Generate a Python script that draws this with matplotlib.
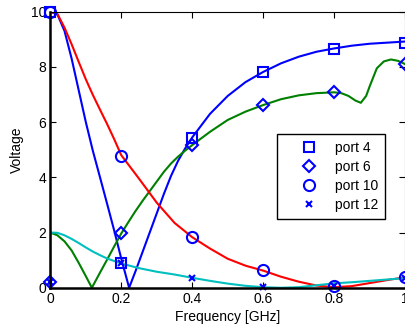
import matplotlib.pyplot as plt

plt.rcParams['font.family'] = ['Liberation Sans', 'DejaVu Sans']

# sampled frequencies for the markers
f_mark = [0.0, 0.2, 0.4, 0.6, 0.8, 1.0]
port4 = [10.0, 0.88, 5.42, 7.82, 8.66, 8.88]
port6 = [0.2, 1.97, 5.17, 6.62, 7.08, 8.1]
port10 = [10.0, 4.77, 1.83, 0.63, 0.05, 0.38]
port12 = [0.2, 0.88, 0.36, 0.04, 0.08, 0.36]

# fitted curves (blue, green, red, cyan)
f_blue = [0.0, 0.02, 0.04, 0.06, 0.08, 0.10, 0.12, 0.14, 0.16, 0.18, 0.20, 0.222,
          0.24, 0.26, 0.28, 0.30, 0.32, 0.34, 0.36, 0.38, 0.40, 0.45, 0.50, 0.55,
          0.60, 0.65, 0.70, 0.75, 0.80, 0.85, 0.90, 0.95, 1.0]
v_blue = [10.0, 9.9, 9.3, 8.3, 7.15, 6.0, 4.95, 4.0, 3.04, 2.07, 1.05, 0.0,
          0.6, 1.3, 2.0, 2.7, 3.4, 4.05, 4.6, 5.05, 5.45, 6.3, 6.95, 7.45,
          7.82, 8.13, 8.37, 8.55, 8.67, 8.77, 8.84, 8.88, 8.92]

f_green = [0.0, 0.02, 0.04, 0.06, 0.08, 0.10, 0.117, 0.14, 0.16, 0.18, 0.20, 0.22,
           0.24, 0.26, 0.28, 0.30, 0.32, 0.34, 0.36, 0.38, 0.40, 0.45, 0.50, 0.55,
           0.60, 0.65, 0.70, 0.75, 0.80, 0.82, 0.84, 0.86, 0.875, 0.89, 0.90, 0.92,
           0.94, 0.96, 0.98, 1.0]
v_green = [2.0, 1.9, 1.68, 1.35, 0.9, 0.42, 0.0, 0.55, 1.02, 1.5, 1.97, 2.38,
           2.78, 3.15, 3.5, 3.85, 4.2, 4.5, 4.75, 4.97, 5.17, 5.65, 6.08, 6.38,
           6.62, 6.83, 6.97, 7.05, 7.08, 7.05, 6.95, 6.78, 6.7, 6.95, 7.3, 7.95,
           8.2, 8.27, 8.22, 8.1]

f_red = [0.0, 0.02, 0.04, 0.06, 0.08, 0.10, 0.12, 0.14, 0.16, 0.18, 0.20, 0.25,
         0.30, 0.35, 0.40, 0.45, 0.50, 0.55, 0.60, 0.65, 0.70, 0.75, 0.80, 0.85,
         0.90, 0.95, 1.0]
v_red = [10.0, 9.92, 9.42, 8.82, 8.18, 7.55, 6.98, 6.45, 5.93, 5.38, 4.8, 3.95,
         3.08, 2.35, 1.83, 1.42, 1.05, 0.8, 0.62, 0.4, 0.22, 0.08, 0.02, 0.06,
         0.17, 0.28, 0.38]

f_cyan = [0.0, 0.0, 0.02, 0.04, 0.06, 0.08, 0.10, 0.12, 0.14, 0.16, 0.18, 0.20,
          0.25, 0.30, 0.35, 0.40, 0.45, 0.50, 0.55, 0.60, 0.65, 0.70, 0.75, 0.80,
          0.85, 0.90, 0.95, 1.0]
v_cyan = [0.0, 2.0, 1.99, 1.9, 1.77, 1.62, 1.46, 1.31, 1.18, 1.06, 0.97, 0.88,
          0.71, 0.58, 0.48, 0.36, 0.25, 0.15, 0.07, 0.02, 0.0, 0.02, 0.09, 0.16,
          0.2, 0.25, 0.3, 0.35]

fig = plt.figure(figsize=(4.06, 3.30), dpi=100)
ax = fig.add_axes([0.124, 0.128, 0.874, 0.8365])

ax.plot(f_blue, v_blue, color='#0000ff', lw=1.5)
ax.plot(f_green, v_green, color='#008000', lw=1.5)
ax.plot(f_red, v_red, color='#ff0000', lw=1.5)
ax.plot(f_cyan, v_cyan, color='#00bfbf', lw=1.5)

mk = dict(color='#0000ff', ls='none', mfc='none', mew=1.5, clip_on=False)
ax.plot(f_mark, port4, marker='s', ms=6.5, label='port 4', **mk)
ax.plot(f_mark, port6, marker='D', ms=6, label='port 6', **mk)
ax.plot(f_mark, port10, marker='o', ms=8, label='port 10', **mk)
ax.plot(f_mark, port12, marker='x', ms=5, label='port 12', **mk)

ax.set_xlim(0, 1)
ax.set_ylim(0, 10)
ax.set_xticks([0, 0.2, 0.4, 0.6, 0.8, 1.0])
ax.set_xticklabels(['0', '0.2', '0.4', '0.6', '0.8', '1'])
ax.set_yticks([0, 2, 4, 6, 8, 10])
ax.tick_params(direction='in', top=True, right=True, labelsize=10, length=4, pad=3)
for side in ['left', 'bottom']:
    ax.spines[side].set_linewidth(1.8)
ax.spines['top'].set_linewidth(0.8)
ax.spines['right'].set_linewidth(0.8)
ax.spines['right'].set_color('#555555')

ax.set_xlabel('Frequency [GHz]', fontsize=10, labelpad=3)
ax.set_ylabel('Voltage', fontsize=10, labelpad=5)

leg = ax.legend(loc='upper left', bbox_to_anchor=(0.639, 0.557), borderaxespad=0,
                fontsize=10, fancybox=False, edgecolor='black', framealpha=1,
                handlelength=3.6, handletextpad=0.1, labelspacing=0.37,
                borderpad=0.48)
leg.get_frame().set_linewidth(1.0)

fig.savefig('out.png', dpi=100)
